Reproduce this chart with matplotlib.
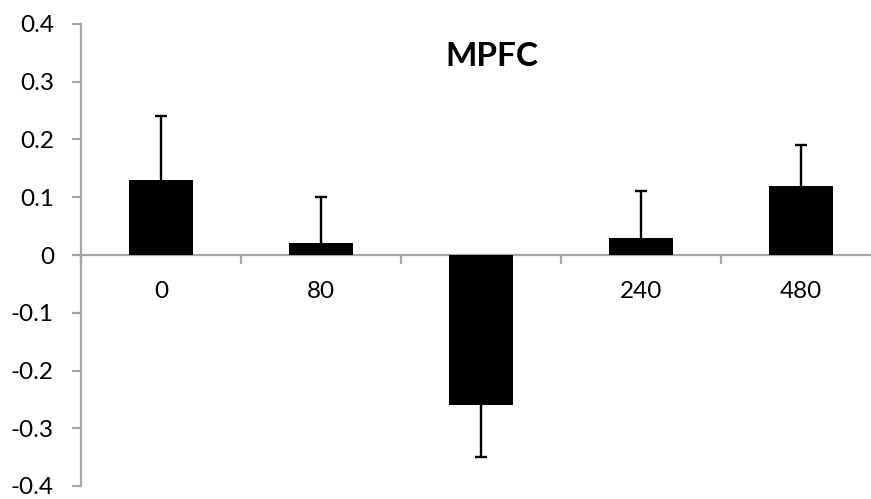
import matplotlib as mpl
import matplotlib.pyplot as plt
import numpy as np

mpl.use('Agg')

# dados do grafico
categorias = ['0', '80', '160', '240', '480']
medias = [0.13, 0.02, -0.26, 0.03, 0.12]
erros = [0.11, 0.08, 0.09, 0.08, 0.07]
yticks = [-0.4, -0.3, -0.2, -0.1, 0, 0.1, 0.2, 0.3, 0.4]
ytick_labels = ['-0.4', '-0.3', '-0.2', '-0.1', '0', '0.1', '0.2', '0.3', '0.4']

plt.rcParams['font.family'] = ['Lato', 'DejaVu Sans']
cinza = '#a6a6a6'

W, H = 871, 499
fig = plt.figure(figsize=(W / 100, H / 100), dpi=100)
ax = fig.add_axes([81 / W, (H - 486) / H, 800 / W, 462 / H])

x = np.arange(len(categorias))
medias_arr = np.array(medias)
erros_arr = np.array(erros)
# barras positivas com erro para cima, negativas com erro para baixo
pontas = medias_arr + np.sign(medias_arr) * erros_arr

ax.vlines(x, medias_arr, pontas, color='black', linewidth=1.7, zorder=2)
ax.plot(x, pontas, linestyle='none', marker='_', markersize=8.5,
        markeredgewidth=1.7, color='black', zorder=2)
ax.bar(x, medias, width=0.4, color='black', zorder=3)

ax.set_xlim(-0.5, len(categorias) - 0.5)
ax.set_ylim(-0.4, 0.4)

ax.spines['top'].set_visible(False)
ax.spines['right'].set_visible(False)
ax.spines['left'].set_color(cinza)
ax.spines['left'].set_linewidth(1.6)
ax.spines['bottom'].set_color(cinza)
ax.spines['bottom'].set_linewidth(1.6)
ax.spines['bottom'].set_position(('data', 0))
ax.spines['bottom'].set_zorder(2.5)

ax.set_yticks(yticks)
ax.set_yticklabels(ytick_labels)
ax.tick_params(axis='y', direction='out', length=6.5, width=1.6, color=cinza,
               labelsize=17.5, pad=13)

# o rotulo "160" fica escondido atras da barra negativa
rotulos = [c if m >= 0 else '' for c, m in zip(categorias, medias)]
ax.set_xticks(x)
ax.set_xticklabels(rotulos)
ax.set_xticks(np.arange(len(categorias) + 1) - 0.5, minor=True)
ax.tick_params(axis='x', which='major', length=0, labelsize=17.5, pad=19)
ax.tick_params(axis='x', which='minor', direction='out', length=6.5, width=1.6,
               color=cinza)

fig.text(492 / W, 1 - 56 / H, 'MPFC', fontsize=24, fontweight='bold',
         ha='center', va='center')

fig.savefig('out.png', dpi=100)
